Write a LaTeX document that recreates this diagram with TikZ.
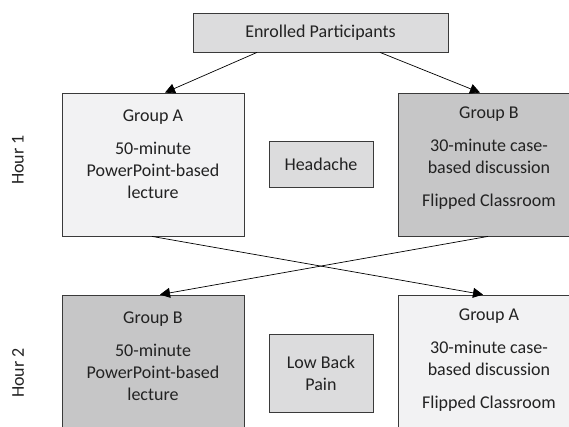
\documentclass[tikz,border=0pt]{standalone}
\usepackage{fontspec}
\setmainfont{Carlito}
\usetikzlibrary{arrows.meta}
\definecolor{lightfill}{HTML}{F2F2F3}
\definecolor{midfill}{HTML}{DCDCDD}
\definecolor{darkfill}{HTML}{C6C6C7}
\definecolor{edge}{HTML}{3A3A3A}
\definecolor{ink}{HTML}{222222}
\tikzset{
  box/.style={draw=edge, line width=0.8pt, rectangle, inner sep=0pt},
  txt/.style={align=center, inner sep=0pt, text=ink, font=\fontsize{18}{22}\selectfont},
  conn/.style={draw=black, line width=0.7pt, -{Triangle[length=10pt,width=10pt]}},
}
\begin{document}
\begin{tikzpicture}[x=1pt,y=-1pt]
\useasboundingbox (0,0) rectangle (569,426);
\clip (0,0) rectangle (569,426);
% boxes
\node[box, fill=midfill, minimum width=255pt, minimum height=39pt] (ep) at (320.5,32.5) {};
\node[box, fill=lightfill, minimum width=182pt, minimum height=143pt] (a1) at (153,164.5) {};
\node[box, fill=darkfill, minimum width=182pt, minimum height=143pt] (b1) at (489,164.5) {};
\node[box, fill=midfill, minimum width=104pt, minimum height=46pt] (hd) at (321,164) {};
\node[box, fill=darkfill, minimum width=182pt, minimum height=143pt] (b2) at (153,366.5) {};
\node[box, fill=lightfill, minimum width=182pt, minimum height=143pt] (a2) at (489,366.5) {};
\node[box, fill=midfill, minimum width=104pt, minimum height=78pt] (lbp) at (321,373) {};
% texts
\node[txt] (ept) at (ep.center) {Enrolled Participants};
\node[txt] (a1t) at (153,154) {Group A\\[11pt]50-minute\\PowerPoint-based\\lecture};
\node[txt] (b1t) at (489,158.5) {Group B\\[11pt]30-minute case-\\based discussion\\[11pt]Flipped Classroom};
\node[txt] (hdt) at (hd.center) {Headache};
\node[txt] (b2t) at (153,356) {Group B\\[11pt]50-minute\\PowerPoint-based\\lecture};
\node[txt] (a2t) at (489,360.5) {Group A\\[11pt]30-minute case-\\based discussion\\[11pt]Flipped Classroom};
\node[txt] (lbpt) at (lbp.center) {Low Back\\Pain};
\node[txt, rotate=90] (h1) at (18,160) {Hour 1};
\node[txt, rotate=90] (h2) at (18,373) {Hour 2};
% connectors
\draw[conn] ([xshift=-63.5pt]ep.south) -- ([xshift=12pt]a1.north);
\draw[conn] ([xshift=59.5pt]ep.south) -- ([xshift=-9pt]b1.north);
\draw[conn] ([xshift=-1pt]a1.south) -- ([xshift=-6pt]a2.north);
\draw[conn] ([xshift=-1pt]b1.south) -- ([xshift=7pt]b2.north);
\end{tikzpicture}
\end{document}
